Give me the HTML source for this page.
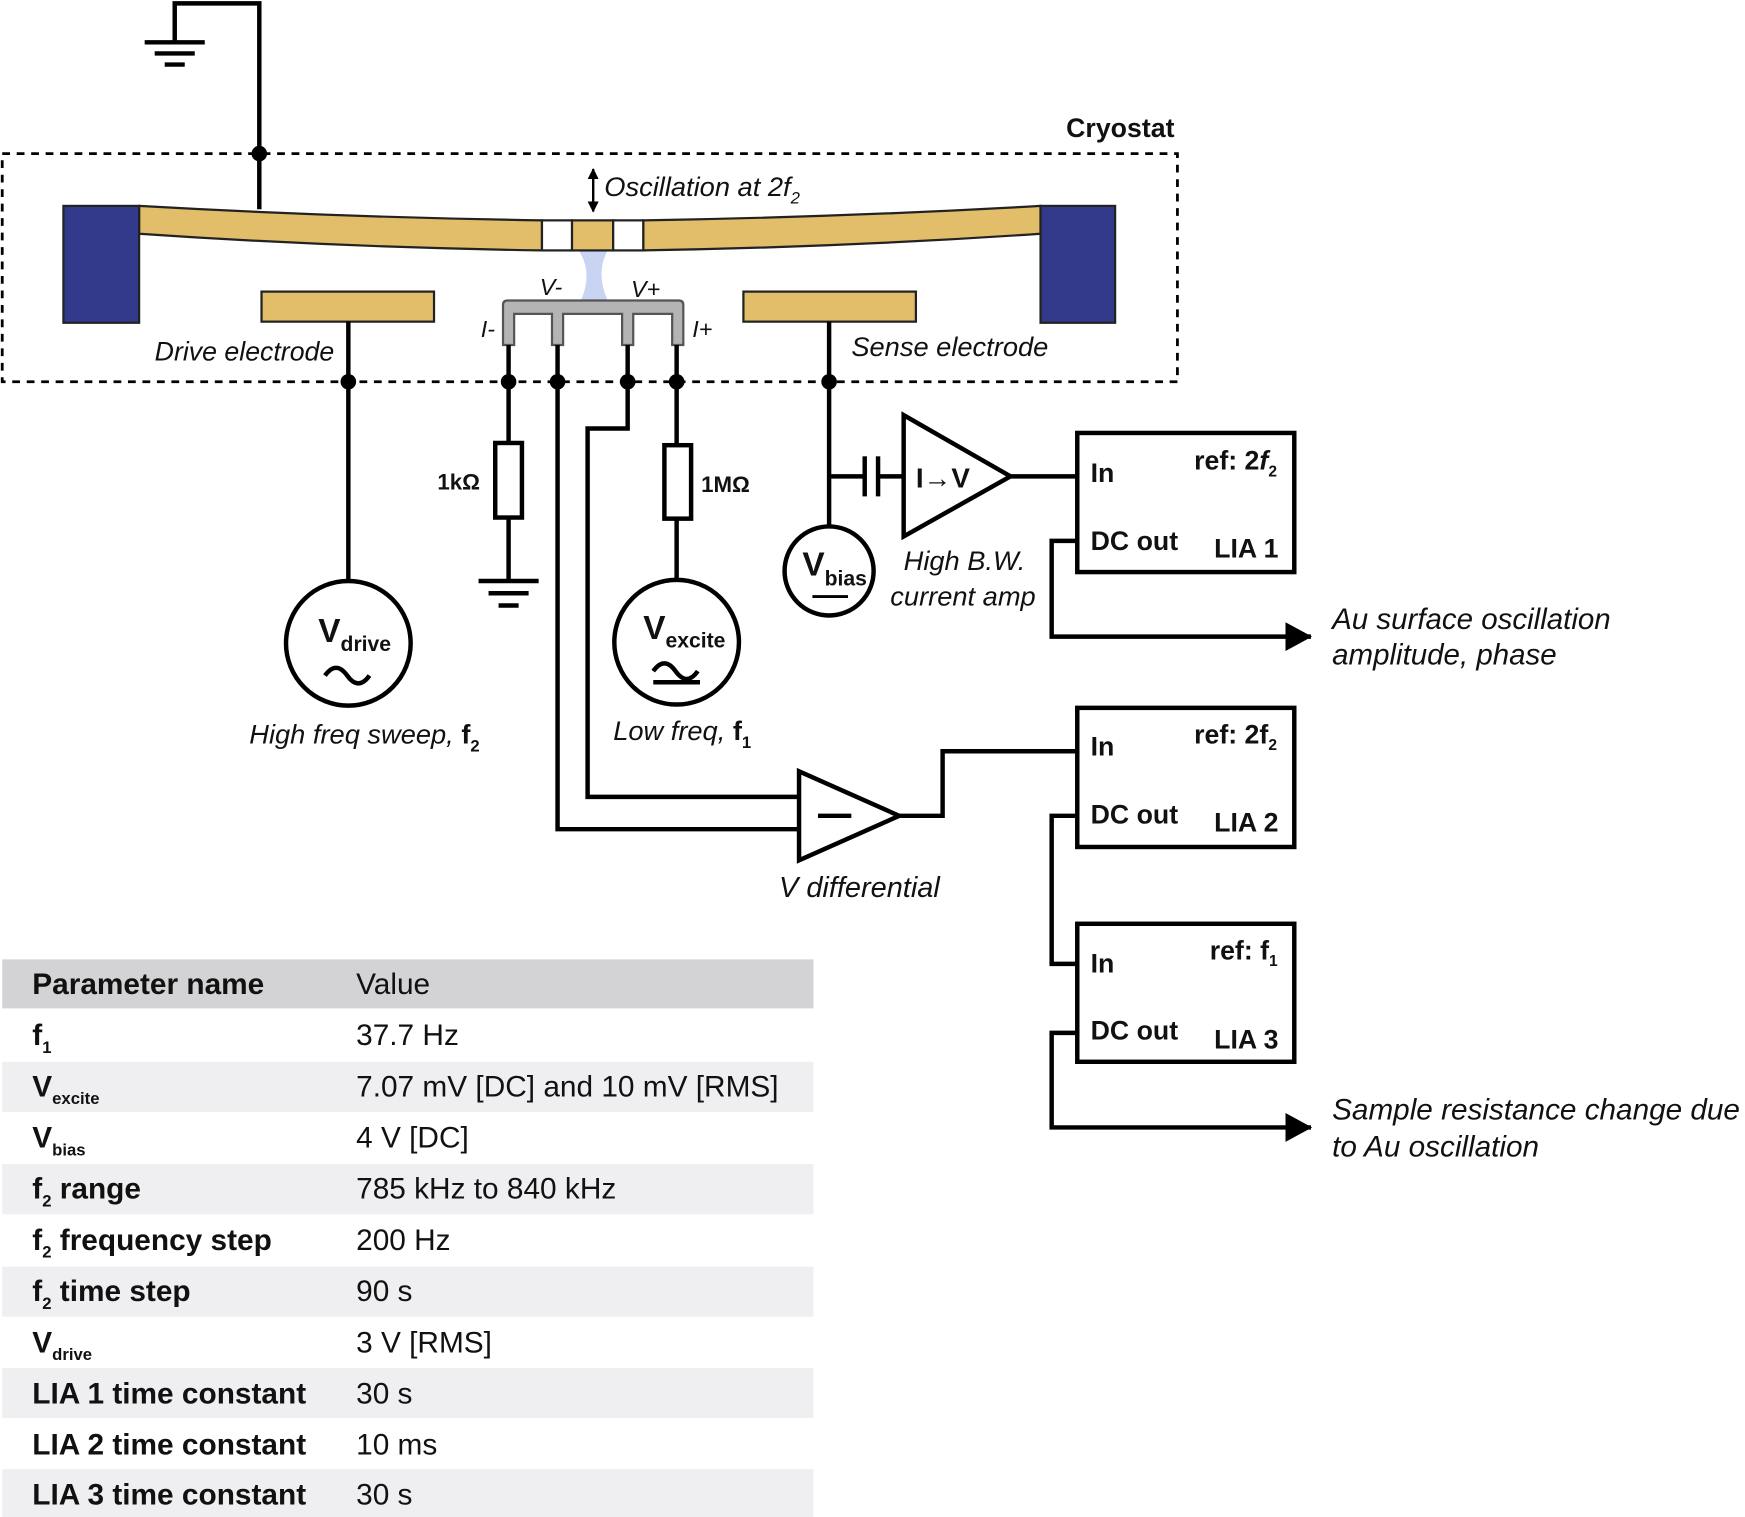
<!DOCTYPE html>
<html><head><meta charset="utf-8"><style>
html,body{margin:0;padding:0;background:#fff;}
svg{display:block;}
text{font-family:"Liberation Sans",Arial,sans-serif;fill:#111;}
.it{font-style:italic;}
.b{font-weight:bold;}
</style></head><body>
<svg width="1745" height="1517" viewBox="0 0 1568 1363" preserveAspectRatio="none" xmlns="http://www.w3.org/2000/svg">
<defs><marker id="ar" markerWidth="10" markerHeight="10" refX="9" refY="5" orient="auto" markerUnits="userSpaceOnUse"><path d="M0,0 L10,5 L0,10z" fill="#000"/></marker>
<marker id="a2" markerWidth="24" markerHeight="26" refX="23" refY="13" orient="auto" markerUnits="userSpaceOnUse"><path d="M0,0 L24,13 L0,26z" fill="#000"/></marker></defs>
<g stroke="#000" stroke-width="4" fill="none">
<polyline points="233,188 233,3 157,3 157,38"/>
<line x1="130" y1="38" x2="184" y2="38"/><line x1="139" y1="48" x2="175" y2="48"/><line x1="148" y1="58" x2="166" y2="58"/>
</g>
<rect x="2" y="138" width="1056" height="205" fill="none" stroke="#000" stroke-width="2.5" stroke-dasharray="7,6"/>
<text x="958" y="123" class="b" font-size="24">Cryostat</text>
<path d="M520,225 Q533,245 522,270 L546,270 Q535,245 546,225z" fill="#c8d4f2"/>
<g stroke="#222" stroke-width="2">
<path d="M125,185 Q300,195 487,198 L487,225 Q300,222 125,210z" fill="#e2bd6a"/>
<path d="M578,198 Q760,195 935,185 L935,210 Q760,222 578,225z" fill="#e2bd6a"/>
<rect x="487" y="198" width="27" height="27" fill="#fff"/>
<rect x="514" y="198" width="37" height="27" fill="#e2bd6a"/>
<rect x="551" y="198" width="27" height="27" fill="#fff"/>
<rect x="57" y="185" width="68" height="105" fill="#333a8c"/>
<rect x="935" y="185" width="67" height="105" fill="#333a8c"/>
<rect x="235" y="262" width="155" height="27" fill="#e2bd6a"/>
<rect x="668" y="262" width="155" height="27" fill="#e2bd6a"/>
</g>
<line x1="533" y1="152" x2="533" y2="190" stroke="#000" stroke-width="2" marker-end="url(#ar)"/>
<line x1="533" y1="190" x2="533" y2="152" stroke="#000" stroke-width="2" marker-end="url(#ar)"/>
<text x="543" y="176" class="it" font-size="24.5">Oscillation at 2<tspan>f</tspan><tspan font-size="15" dy="7">2</tspan></text>
<path d="M452,310 L452,274 Q452,270 456,270 L610,270 Q614,270 614,274 L614,310 L604,310 L604,282 L569,282 L569,310 L559,310 L559,282 L506,282 L506,310 L496,310 L496,282 L462,282 L462,310z" fill="#b4b4b4" stroke="#555" stroke-width="2"/>
<text x="485" y="265" class="it" font-size="21">V-</text>
<text x="567" y="267" class="it" font-size="21">V+</text>
<text x="432" y="303" class="it" font-size="21">I-</text>
<text x="622" y="303" class="it" font-size="21">I+</text>
<text x="139" y="324" class="it" font-size="24">Drive electrode</text>
<text x="765" y="320" class="it" font-size="24.5">Sense electrode</text>
<g stroke="#000" stroke-width="4" fill="none">
<line x1="313" y1="289" x2="313" y2="522"/>
<circle cx="313" cy="578" r="56"/>
<line x1="457" y1="310" x2="457" y2="398"/>
<rect x="445" y="398" width="24" height="67"/>
<line x1="457" y1="465" x2="457" y2="522"/>
<line x1="430" y1="522" x2="484" y2="522"/><line x1="439" y1="533" x2="475" y2="533"/><line x1="448" y1="544" x2="466" y2="544"/>
<polyline points="501,310 501,745 718,745"/>
<polyline points="564,310 564,385 528,385 528,716 718,716"/>
<line x1="608" y1="310" x2="608" y2="400"/>
<rect x="597" y="400" width="24" height="66"/>
<line x1="608" y1="466" x2="608" y2="521"/>
<circle cx="608" cy="577" r="56"/>
<line x1="745" y1="289" x2="745" y2="473"/>
<circle cx="745" cy="513" r="40"/>
<line x1="745" y1="428" x2="777" y2="428"/>
<line x1="777" y1="410" x2="777" y2="446"/><line x1="789" y1="410" x2="789" y2="446"/>
<line x1="789" y1="428" x2="812" y2="428"/>
<polygon points="812,373 812,482 908,428"/>
<line x1="908" y1="428" x2="968" y2="428"/>
<rect x="968" y="389" width="195" height="125"/>
<polyline points="968,486 945,486 945,572 1178,572" marker-end="url(#a2)"/>
<polygon points="718,693 718,773 808,733"/>
<line x1="735" y1="733" x2="765" y2="733"/>
<polyline points="808,733 847,733 847,675 968,675"/>
<rect x="968" y="636" width="195" height="125"/>
<polyline points="968,733 945,733 945,866 968,866"/>
<rect x="968" y="830" width="195" height="124"/>
<polyline points="968,928 945,928 945,1013 1178,1013" marker-end="url(#a2)"/>
<path d="M292,607 q10,-14 20,0 t20,0"/>
<path d="M587,603 q10,-14 20,0 t20,0"/><line x1="587" y1="613" x2="629" y2="613"/>
<line x1="730" y1="536" x2="762" y2="536" stroke-width="2.5"/>
</g>
<g fill="#000">
<circle cx="233" cy="138" r="7"/><circle cx="313" cy="343" r="7"/><circle cx="457" cy="343" r="7"/>
<circle cx="501" cy="343" r="7"/><circle cx="564" cy="343" r="7"/><circle cx="608" cy="343" r="7"/><circle cx="745" cy="343" r="7"/>
</g>
<text x="393" y="440" class="b" font-size="20">1kΩ</text>
<text x="630" y="442" class="b" font-size="20">1MΩ</text>
<text x="286" y="577" class="b" font-size="30">V<tspan font-size="19" dy="8">drive</tspan></text>
<text x="578" y="574" class="b" font-size="30">V<tspan font-size="19" dy="8">excite</tspan></text>
<text x="721" y="517" class="b" font-size="30">V<tspan font-size="19" dy="9">bias</tspan></text>
<text x="823" y="438" class="b" font-size="25">I→V</text>
<text x="224" y="668" class="it" font-size="24.5">High freq sweep, <tspan class="b" font-style="normal">f</tspan><tspan class="b" font-style="normal" font-size="15" dy="7">2</tspan></text>
<text x="551" y="665" class="it" font-size="24.5">Low freq, <tspan class="b" font-style="normal">f</tspan><tspan class="b" font-style="normal" font-size="15" dy="7">1</tspan></text>
<text x="812" y="512" class="it" font-size="24.5">High B.W.</text>
<text x="800" y="544" class="it" font-size="24.5">current amp</text>
<text x="700" y="806" class="it" font-size="26">V differential</text>
<text x="1197" y="565" class="it" font-size="26.5">Au surface oscillation</text>
<text x="1197" y="597" class="it" font-size="26.5">amplitude, phase</text>
<text x="1197" y="1006" class="it" font-size="26.7">Sample resistance change due</text>
<text x="1197" y="1039" class="it" font-size="26.7">to Au oscillation</text>
<g class="b" font-size="24">
<text x="980" y="433" class="b">In</text><text x="1073" y="422" class="b">ref: 2<tspan font-style="italic">f</tspan><tspan font-size="14" dy="6">2</tspan></text>
<text x="980" y="494" class="b">DC out</text><text x="1091" y="501" class="b">LIA 1</text>
<text x="980" y="679" class="b">In</text><text x="1073" y="668" class="b">ref: 2f<tspan font-size="14" dy="6">2</tspan></text>
<text x="980" y="740" class="b">DC out</text><text x="1091" y="747" class="b">LIA 2</text>
<text x="980" y="874" class="b">In</text><text x="1087" y="862" class="b">ref: f<tspan font-size="14" dy="6">1</tspan></text>
<text x="980" y="934" class="b">DC out</text><text x="1091" y="942" class="b">LIA 3</text>
</g>
<rect x="2" y="862" width="729" height="44" fill="#d3d3d5"/>
<rect x="2" y="954" width="729" height="45" fill="#efeff1"/>
<rect x="2" y="1046" width="729" height="45" fill="#efeff1"/>
<rect x="2" y="1138" width="729" height="45" fill="#efeff1"/>
<rect x="2" y="1229" width="729" height="45" fill="#efeff1"/>
<rect x="2" y="1320" width="729" height="43" fill="#efeff1"/>
<g font-size="26.8">
<text x="29" y="893" class="b">Parameter name</text><text x="320" y="893">Value</text>
<text x="29" y="939" class="b">f<tspan font-size="15" dy="7">1</tspan></text><text x="320" y="939">37.7 Hz</text>
<text x="29" y="985" class="b">V<tspan font-size="15" dy="7">excite</tspan></text><text x="320" y="985">7.07 mV [DC] and 10 mV [RMS]</text>
<text x="29" y="1031" class="b">V<tspan font-size="15" dy="7">bias</tspan></text><text x="320" y="1031">4 V [DC]</text>
<text x="29" y="1077" class="b">f<tspan font-size="15" dy="7">2</tspan><tspan dy="-7"> range</tspan></text><text x="320" y="1077">785 kHz to 840 kHz</text>
<text x="29" y="1123" class="b">f<tspan font-size="15" dy="7">2</tspan><tspan dy="-7"> frequency step</tspan></text><text x="320" y="1123">200 Hz</text>
<text x="29" y="1169" class="b">f<tspan font-size="15" dy="7">2</tspan><tspan dy="-7"> time step</tspan></text><text x="320" y="1169">90 s</text>
<text x="29" y="1215" class="b">V<tspan font-size="15" dy="7">drive</tspan></text><text x="320" y="1215">3 V [RMS]</text>
<text x="29" y="1261" class="b">LIA 1 time constant</text><text x="320" y="1261">30 s</text>
<text x="29" y="1307" class="b">LIA 2 time constant</text><text x="320" y="1307">10 ms</text>
<text x="29" y="1352" class="b">LIA 3 time constant</text><text x="320" y="1352">30 s</text>
</g>
</svg>
</body></html>
